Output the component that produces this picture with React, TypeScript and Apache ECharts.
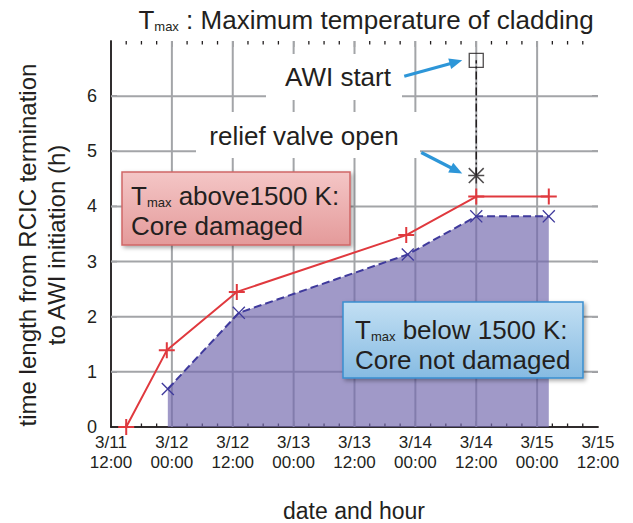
import React, { useEffect, useRef } from 'react';
import * as echarts from 'echarts';

// x values are hours since 3/11 12:00
const xTickLabels = ['3/11\n12:00', '3/12\n00:00', '3/12\n12:00', '3/13\n00:00', '3/13\n12:00', '3/14\n00:00', '3/14\n12:00', '3/15\n00:00', '3/15\n12:00'];
const yTickLabels = ['0', '1', '2', '3', '4', '5', '6'];

const damagedHours = [3, 11, 24.8, 58.2, 72, 86.3];
const damagedValues = [0, 1.39, 2.45, 3.48, 4.18, 4.18];
const safeHours = [11.2, 25.2, 58.5, 72, 86.3];
const safeValues = [0.69, 2.07, 3.13, 3.82, 3.82];
const reliefValve = [72, 4.56];
const awiStart = [72, 6.65];

const X_MAX = 96;
const Y_MAX = 7;
// axis structure (grid/tick positions)
const xMajorHours = xTickLabels.map((_, i) => i * 12).slice(1, -1);
const xMinorHours: number[] = [];
for (let h = 3; h < X_MAX; h += 3) if (h % 12 !== 0) xMinorHours.push(h);
const yGridValues = yTickLabels.map((_, i) => i).slice(1);

const FONT = '"Liberation Sans", Arial, Helvetica, sans-serif';
const INK = '#231f20';
const GRIDC = '#a3a5a8';

const PLUS = 'path://M7,0H9V7H16V9H9V16H7V9H0V7H7Z';
const CROSS = 'path://M0,1.2L1.2,0L8,6.8L14.8,0L16,1.2L9.2,8L16,14.8L14.8,16L8,9.2L1.2,16L0,14.8L6.8,8Z';
const STAR = 'path://M7.2,0H8.8V7.2H16V8.8H8.8V16H7.2V8.8H0V7.2H7.2Z M1.1,0L8,6.9L14.9,0L16,1.1L9.1,8L16,14.9L14.9,16L8,9.1L1.1,16L0,14.9L6.9,8L0,1.1Z';

function arrow(x1: number, y1: number, x2: number, y2: number, color: string) {
  const dx = x2 - x1, dy = y2 - y1;
  const len = Math.hypot(dx, dy);
  const ux = dx / len, uy = dy / len;
  const px = -uy, py = ux;
  const L = 13, W = 5.5;
  return [
    { type: 'line', z: 20, shape: { x1, y1, x2: x2 - ux * (L - 2), y2: y2 - uy * (L - 2) }, style: { stroke: color, lineWidth: 3.2 } },
    {
      type: 'polygon', z: 20,
      shape: { points: [[x2, y2], [x2 - ux * L + px * W, y2 - uy * L + py * W], [x2 - ux * L - px * W, y2 - uy * L - py * W]] },
      style: { fill: color },
    },
  ];
}

export default function App() {
  const ref = useRef<HTMLDivElement>(null);
  useEffect(() => {
    if (!ref.current) return;
    const chart = echarts.init(ref.current, null, { renderer: 'svg' });
    const axisLine = { show: true, lineStyle: { color: INK, width: 1.5 } };
    const gridSeries: any[] = [
      ...xMajorHours.map((h) => ({
        type: 'line', silent: true, z: 1, symbol: 'none',
        data: [[h, 0], [h, Y_MAX]],
        lineStyle: { color: GRIDC, width: 2, type: 'solid' },
      })),
      ...yGridValues.map((v) => ({
        type: 'line', silent: true, z: 1, symbol: 'none',
        data: [[0, v], [X_MAX, v]],
        lineStyle: { color: GRIDC, width: 2, type: 'solid' },
      })),
    ];
    const option: any = {
      animation: false,
      textStyle: { fontFamily: FONT, color: INK },
      grid: { left: 111, right: 35, top: 41, bottom: 96, containLabel: false, outerBoundsMode: 'none' },
      xAxis: [
        {
          type: 'value', min: 0, max: X_MAX, interval: 12, position: 'bottom',
          axisLine, axisTick: { show: false }, splitLine: { show: false },
          axisLabel: {
            formatter: (v: number) => xTickLabels[Math.round(v / 12)] ?? '',
            fontSize: 17, lineHeight: 20, color: INK, margin: 5, fontFamily: FONT,
          },
        },
        {
          type: 'value', min: 0, max: X_MAX, interval: 12, position: 'top',
          axisLine, axisTick: { show: false }, axisLabel: { show: false }, splitLine: { show: false },
        },
      ],
      yAxis: [
        {
          type: 'value', min: 0, max: Y_MAX, interval: 1, position: 'left',
          axisLine, axisTick: { show: false }, splitLine: { show: false },
          axisLabel: {
            formatter: (v: number) => yTickLabels[v] ?? '',
            fontSize: 18, color: INK, margin: 14, fontFamily: FONT,
          },
        },
        {
          type: 'value', min: 0, max: Y_MAX, interval: 1, position: 'right',
          axisLine, axisTick: { show: false }, axisLabel: { show: false }, splitLine: { show: false },
        },
      ],
      series: [
        ...gridSeries,
        // y ticks, left and right
        {
          type: 'custom', coordinateSystem: 'cartesian2d', silent: true, z: 1,
          data: yGridValues.map((v) => [0, v]),
          renderItem: (_p: any, api: any) => {
            const a = api.coord([0, api.value(1)]);
            const b = api.coord([X_MAX, api.value(1)]);
            return {
              type: 'group',
              children: [
                { type: 'line', shape: { x1: a[0], y1: a[1], x2: a[0] + 6, y2: a[1] }, style: { stroke: INK, lineWidth: 1.3 } },
                { type: 'line', shape: { x1: b[0], y1: b[1], x2: b[0] - 6, y2: b[1] }, style: { stroke: INK, lineWidth: 1.3 } },
              ],
            };
          },
        },
        // x ticks, major and minor, bottom and top
        {
          type: 'custom', coordinateSystem: 'cartesian2d', silent: true, z: 1,
          data: [...xMajorHours.map((h) => [h, 0, 6]), ...xMinorHours.map((h) => [h, 0, 3.5])],
          renderItem: (_p: any, api: any) => {
            const a = api.coord([api.value(0), 0]);
            const b = api.coord([api.value(0), Y_MAX]);
            const len = api.value(2);
            return {
              type: 'group',
              children: [
                { type: 'line', shape: { x1: a[0], y1: a[1], x2: a[0], y2: a[1] - len }, style: { stroke: INK, lineWidth: 1.3 } },
                { type: 'line', shape: { x1: b[0], y1: b[1], x2: b[0], y2: b[1] + len }, style: { stroke: INK, lineWidth: 1.3 } },
              ],
            };
          },
        },
        {
          type: 'line', name: 'below',
          data: safeHours.map((h, i) => [h, safeValues[i]]),
          symbol: CROSS, symbolSize: 13,
          itemStyle: { color: '#3f3a9c' },
          lineStyle: { color: '#3f3a9c', width: 2, type: [8, 4] },
          areaStyle: { color: 'rgb(115,104,174)', opacity: 0.68, origin: 'start' },
          z: 2,
        },
        {
          type: 'line', name: 'above',
          data: damagedHours.map((h, i) => [h, damagedValues[i]]),
          symbol: PLUS, symbolSize: 16,
          itemStyle: { color: '#e0393e' },
          lineStyle: { color: '#e0393e', width: 2 },
          z: 3,
        },
        {
          type: 'line', name: 'awi',
          data: [reliefValve, awiStart],
          symbol: 'none',
          lineStyle: { color: INK, width: 1.5, type: [8, 3, 2, 3] },
          z: 4,
        },
        {
          type: 'scatter', data: [reliefValve], symbol: STAR, symbolSize: 16,
          itemStyle: { color: INK }, z: 5,
        },
        {
          type: 'scatter', data: [awiStart], symbol: 'rect', symbolSize: 14,
          itemStyle: { color: 'rgba(0,0,0,0)', borderColor: INK, borderWidth: 1.3 }, z: 5,
        },
      ],
    };
    chart.setOption(option);

    const P = chart.convertToPixel({ xAxisIndex: 0, yAxisIndex: 0 }, awiStart) as number[];
    const S = chart.convertToPixel({ xAxisIndex: 0, yAxisIndex: 0 }, reliefValve) as number[];
    const BLUE = '#2d96d8';

    const redFill = new echarts.graphic.LinearGradient(0, 0, 0, 1, [
      { offset: 0, color: '#f4c6c6' },
      { offset: 1, color: '#e49a9a' },
    ]);
    const blueFill = new echarts.graphic.LinearGradient(0, 0, 0, 1, [
      { offset: 0, color: '#c2dff3' },
      { offset: 1, color: '#86bbe2' },
    ]);
    const rich = {
      t: { fontSize: 26, fontFamily: FONT, fill: INK, color: INK, lineHeight: 30, verticalAlign: 'bottom' },
      s: { fontSize: 13, fontFamily: FONT, fill: INK, color: INK, lineHeight: 30, verticalAlign: 'bottom' },
    };

    chart.setOption({
      graphic: [
        {
          type: 'text', z: 20, x: 366, y: 18,
          style: {
            text: '{t|T}{s|max}{t| : Maximum temperature of cladding}',
            rich, align: 'center', verticalAlign: 'middle',
          },
        },
        {
          type: 'text', z: 20, x: 42, y: 245, rotation: Math.PI / 2,
          style: {
            text: 'time length from RCIC termination\nto AWI initiation (h)',
            fontSize: 24, lineHeight: 29, fontFamily: FONT, fill: INK, align: 'center', verticalAlign: 'middle',
          },
        },
        {
          type: 'text', z: 20, x: 354, y: 511,
          style: { text: 'date and hour', fontSize: 23, fontFamily: FONT, fill: INK, align: 'center', verticalAlign: 'middle' },
        },
        { type: 'rect', z: 10, shape: { x: 266, y: 54, width: 136, height: 46 }, style: { fill: '#ffffff' } },
        { type: 'rect', z: 10, shape: { x: 196, y: 112, width: 224, height: 46 }, style: { fill: '#ffffff' } },
        {
          type: 'text', z: 20, x: 338, y: 77,
          style: { text: 'AWI start', fontSize: 26, fontFamily: FONT, fill: INK, align: 'center', verticalAlign: 'middle' },
        },
        {
          type: 'text', z: 20, x: 304, y: 136,
          style: { text: 'relief valve open', fontSize: 26, fontFamily: FONT, fill: INK, align: 'center', verticalAlign: 'middle' },
        },
        ...arrow(P[0] - 72, P[1] + 16, P[0] - 14, P[1], BLUE),
        ...arrow(S[0] - 55, S[1] - 23, S[0] - 14, S[1] - 2, BLUE),
        {
          type: 'rect', z: 15, shape: { x: 122, y: 172, width: 228, height: 73 },
          style: {
            fill: redFill, stroke: '#cf6767', lineWidth: 1.5,
            shadowBlur: 4, shadowOffsetX: 2, shadowOffsetY: 2, shadowColor: 'rgba(0,0,0,0.35)',
          },
        },
        {
          type: 'text', z: 20, x: 131, y: 179,
          style: {
            text: '{t|T}{s|max}{t| above1500 K:}\n{t|Core damaged}',
            rich, align: 'left', verticalAlign: 'top',
          },
        },
        {
          type: 'rect', z: 15, shape: { x: 343, y: 302, width: 240, height: 76 },
          style: {
            fill: blueFill, stroke: '#3a8fd0', lineWidth: 1.5,
            shadowBlur: 4, shadowOffsetX: 2, shadowOffsetY: 2, shadowColor: 'rgba(0,0,0,0.35)',
          },
        },
        {
          type: 'text', z: 20, x: 355, y: 313,
          style: {
            text: '{t|T}{s|max}{t| below 1500 K:}\n{t|Core not damaged}',
            rich, align: 'left', verticalAlign: 'top',
          },
        },
      ],
    });
    return () => chart.dispose();
  }, []);
  return <div ref={ref} style={{ position: 'absolute', left: 0, top: 0, width: 633, height: 523 }} />;
}
